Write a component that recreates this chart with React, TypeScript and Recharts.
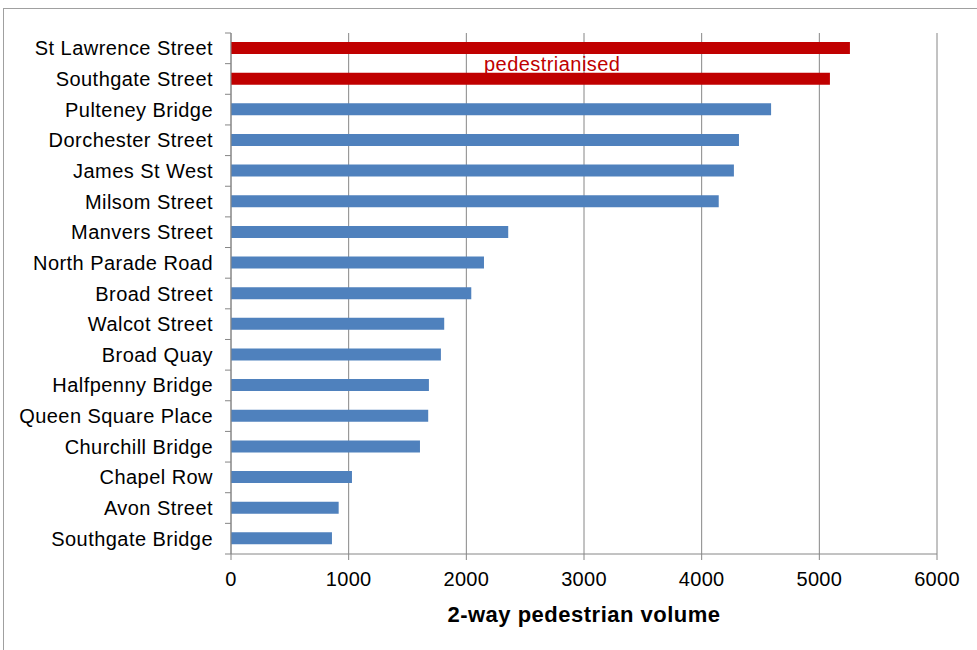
import { BarChart, Bar, XAxis, YAxis, CartesianGrid, Cell } from 'recharts';

// two-way pedestrian counts by street, busiest first
const streets = [
  'St Lawrence Street',
  'Southgate Street',
  'Pulteney Bridge',
  'Dorchester Street',
  'James St West',
  'Milsom Street',
  'Manvers Street',
  'North Parade Road',
  'Broad Street',
  'Walcot Street',
  'Broad Quay',
  'Halfpenny Bridge',
  'Queen Square Place',
  'Churchill Bridge',
  'Chapel Row',
  'Avon Street',
  'Southgate Bridge',
];
const volumes = [5260, 5090, 4590, 4317, 4274, 4145, 2356, 2150, 2042, 1812, 1784, 1682, 1676, 1606, 1028, 915, 858];
const pedestrianised = ['St Lawrence Street', 'Southgate Street'];
const xTicks = [0, 1000, 2000, 3000, 4000, 5000, 6000];

const data = streets.map((name, i) => ({ name, volume: volumes[i] }));

const W = 977;
const H = 650;
const TOP = 33;
const LEFT = 231;
const AXIS_H = 96;
const BAND = (H - TOP - AXIS_H) / streets.length;
const FONT = '"Liberation Sans", Arial, sans-serif';
const GRID = '#868686';

// category label with the tick mark drawn on the band edge, Excel style
const StreetTick = (props: any) => {
  const { y, payload, index } = props;
  const top = y - BAND / 2;
  return (
    <g>
      <line x1={LEFT - 6} x2={LEFT} y1={top} y2={top} stroke={GRID} />
      {index === streets.length - 1 && (
        <line x1={LEFT - 6} x2={LEFT} y1={top + BAND} y2={top + BAND} stroke={GRID} />
      )}
      <text
        x={213}
        y={y}
        dy="0.35em"
        textAnchor="end"
        fontSize={20}
        letterSpacing={0.45}
        fill="#000"
        fontFamily={FONT}
      >
        {payload.value}
      </text>
    </g>
  );
};

export default function App() {
  return (
    <div style={{ position: 'relative', width: W, height: H, overflow: 'hidden', background: '#fff' }}>
      <style>{'body{margin:0}'}</style>
      <div
        style={{
          position: 'absolute', left: 3, top: 8, width: W + 10, height: H + 10,
          border: '1px solid #a0a0a0', boxSizing: 'border-box',
        }}
      />
      <BarChart
        width={W}
        height={H}
        data={data}
        layout="vertical"
        margin={{ top: TOP, right: 40, left: 0, bottom: 0 }}
        style={{ position: 'absolute', left: 0, top: 0, fontFamily: FONT }}
      >
        <CartesianGrid horizontal={false} stroke={GRID} />
        <XAxis
          type="number"
          domain={[0, 6000]}
          ticks={xTicks}
          height={AXIS_H}
          stroke={GRID}
          tickSize={6}
          tickMargin={12}
          tick={{ fontSize: 20, fill: '#000', fontFamily: FONT, letterSpacing: 0.3 }}
          label={{
            value: '2-way pedestrian volume',
            position: 'insideBottom',
            offset: 28,
            style: { fontSize: 22, fontWeight: 'bold', fill: '#000', fontFamily: FONT, letterSpacing: 0.5 },
          }}
        />
        <YAxis
          type="category"
          dataKey="name"
          width={LEFT}
          stroke={GRID}
          tickLine={false}
          interval={0}
          tick={<StreetTick />}
        />
        <Bar dataKey="volume" barSize={12} isAnimationActive={false}>
          {data.map((d) => (
            <Cell key={d.name} fill={pedestrianised.includes(d.name) ? '#c00000' : '#4f81bd'} />
          ))}
        </Bar>
        <text x={484} y={71} fontSize={20} letterSpacing={0.45} fill="#c00000" fontFamily={FONT}>
          pedestrianised
        </text>
      </BarChart>
    </div>
  );
}
